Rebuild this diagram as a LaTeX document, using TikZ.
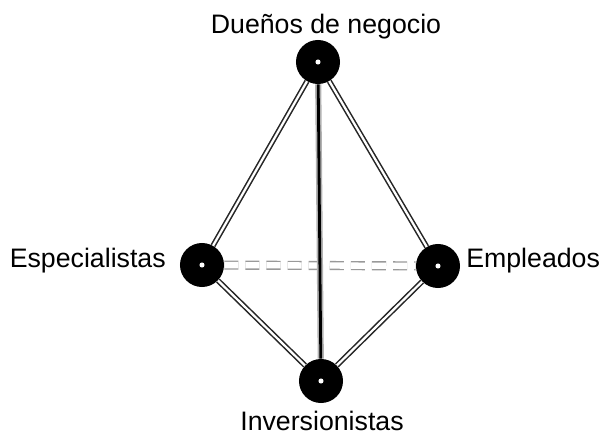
\documentclass[tikz,border=0pt]{standalone}
\usepackage{fontspec}
\setmainfont{Liberation Sans}
\usetikzlibrary{positioning}

\tikzset{
  ball/.style={circle, fill=black, minimum size=1.1cm, inner sep=0pt,
    path picture={\fill[white] (path picture bounding box.center) circle (1.8pt);}},
  lbl/.style={font=\fontsize{19}{21}\selectfont, inner sep=0pt},
  edge/.style={draw=black!85, line width=1.1pt, double=white, double distance=1.6pt},
  axis/.style={draw=gray!60, line width=1.2pt, double=black, double distance=2pt},
  hidden/.style={draw=gray!80, line width=1pt, double=white, double distance=4.5pt, dash pattern=on 10pt off 5pt}
}

\begin{document}
\begin{tikzpicture}[x=0.025cm,y=-0.025cm]
\useasboundingbox (0,0) rectangle (600,434);

\node[ball] (dn) at (318,62) {};
\node[ball] (es) at (202,265) {};
\node[ball] (em) at (438,266) {};
\node[ball] (in) at (321,381) {};

\node[lbl, anchor=base] (ldn) at (326,33) {Dueños de negocio};
\node[lbl, anchor=base east] (les) at (166,267) {Especialistas};
\node[lbl, anchor=base west] (lem) at (466,267) {Empleados};
\node[lbl, anchor=base] (lin) at (322,430) {Inversionistas};

\draw[hidden] (es) -- (em);
\draw[edge] (dn) -- (es);
\draw[edge] (dn) -- (em);
\draw[edge] (es) -- (in);
\draw[edge] (em) -- (in);
\draw[axis] (dn) -- (in);
\end{tikzpicture}
\end{document}
